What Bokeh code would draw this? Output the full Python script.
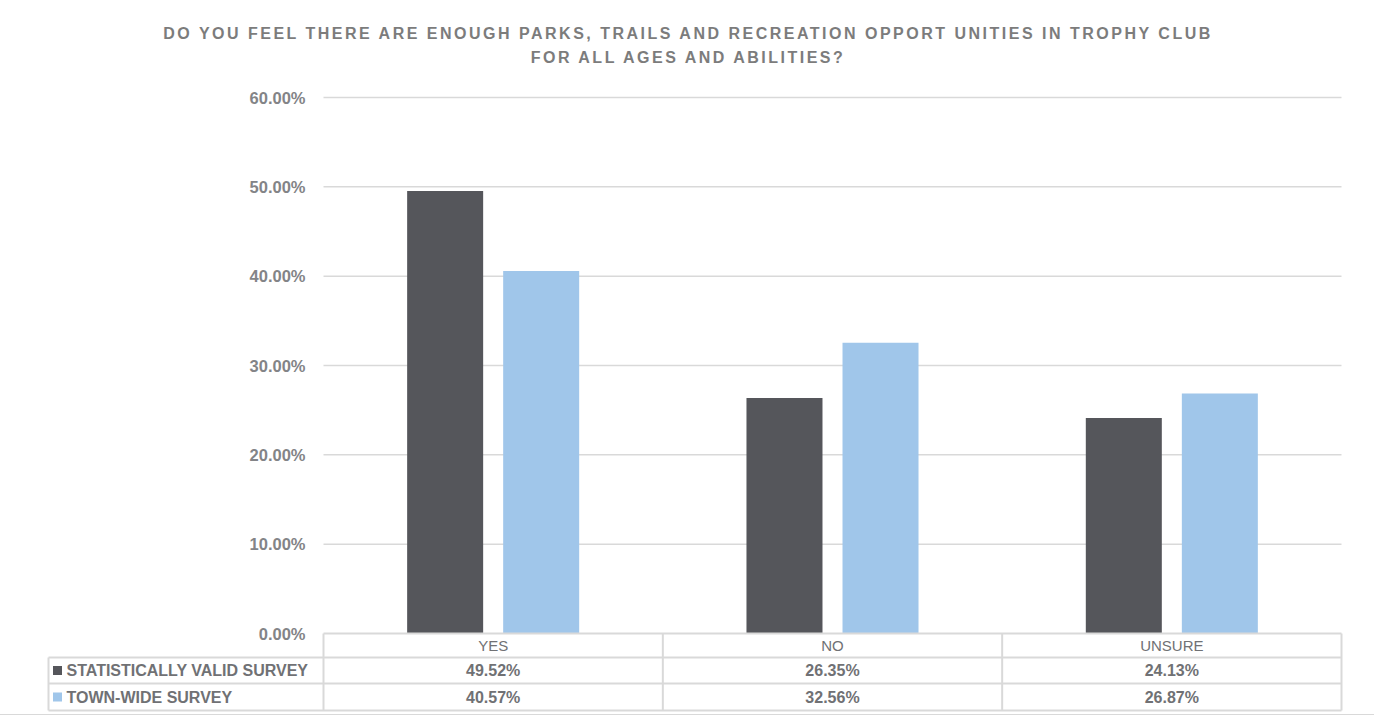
from bokeh.plotting import figure
from bokeh.models import Range1d, Div
from bokeh.layouts import column
from bokeh.core.properties import value
from bokeh.embed import file_html
from bokeh.resources import INLINE
import numpy as np

# ---- data ----
categories = ["YES", "NO", "UNSURE"]
series_names = ["STATISTICALLY VALID SURVEY", "TOWN-WIDE SURVEY"]
statistically_valid = [49.52, 26.35, 24.13]
town_wide = [40.57, 32.56, 26.87]
y_ticks = [0, 10, 20, 30, 40, 50, 60]
tick_labels = ["0.00%", "10.00%", "20.00%", "30.00%", "40.00%", "50.00%", "60.00%"]
title_lines = ["DO YOU FEEL THERE ARE ENOUGH PARKS, TRAILS AND RECREATION OPPORT UNITIES IN TROPHY CLUB",
               "FOR ALL AGES AND ABILITIES?"]

DARK = "#55565b"
BLUE = "#a0c6ea"
GRID = "#d9d9d9"
TXT = "#707174"
FONT = "Liberation Sans"

# layout helpers (pixel geometry -> data units)
PX = 339.33          # px per category
PY = 8.9333          # px per percent
def xd(px):
    return (px - 323) / PX
def yd(py):
    return (633 - py) / PY

W = 1366
title_html = ('<div style="width:%dpx;text-align:center;font-family:\'Liberation Sans\',sans-serif;'
              'font-weight:700;font-size:16px;letter-spacing:2.5px;color:#7c7c7c;'
              'line-height:24px;padding-top:17px;">' % W + "<br>".join(title_lines) + '</div>')
title = Div(text=title_html, width=W, height=78)

p = figure(width=W, height=626, output_backend="svg", toolbar_location=None,
           x_axis_type=None, y_axis_type=None,
           x_range=Range1d(xd(46), xd(1343)), y_range=Range1d(yd(712), yd(88)),
           min_border_left=46, min_border_right=W - 1343, min_border_top=0, min_border_bottom=2)
p.outline_line_color = None
p.background_fill_color = "white"
p.border_fill_color = "white"

n = len(categories)
idx = np.arange(n)
ncat = float(n)

# gridlines
grid_y = [t for t in y_ticks if t > 0]
p.segment(x0=[0] * len(grid_y), x1=[ncat] * len(grid_y), y0=grid_y, y1=grid_y,
          line_color=GRID, line_width=1.5)

# bars
bw = 0.224
off = 0.1415
p.vbar(x=idx + 0.5 - off, top=statistically_valid, bottom=0, width=bw, fill_color=DARK, line_color=None)
p.vbar(x=idx + 0.5 + off, top=town_wide, bottom=0, width=bw, fill_color=BLUE, line_color=None)

# y tick labels
p.text(x=[0] * len(y_ticks), y=y_ticks, text=tick_labels, x_offset=-18,
       text_align="right", text_baseline="middle", text_font=value(FONT),
       text_font_style="bold", text_font_size="16.5px", text_color="#838487")

# data table lines
row_top = yd(657)
row_mid = yd(683)
row_bot = yd(710)
left = xd(48)
p.segment(x0=[0, left, left, left], x1=[ncat] * 4,
          y0=[0, row_top, row_mid, row_bot], y1=[0, row_top, row_mid, row_bot],
          line_color=GRID, line_width=2)
vx = list(range(n + 1))
p.segment(x0=vx, x1=vx, y0=[0] * len(vx), y1=[row_bot] * len(vx), line_color=GRID, line_width=2)
p.segment(x0=[left], x1=[left], y0=[row_top], y1=[row_bot], line_color=GRID, line_width=2)

# header
p.text(x=idx + 0.5, y=[(0 + row_top) / 2] * n, text=categories, text_align="center",
       text_baseline="middle", text_font=value(FONT), text_font_size="15px", text_color=TXT)

# rows
row_centers = [(row_top + row_mid) / 2, (row_mid + row_bot) / 2]
for vals, yc in zip([statistically_valid, town_wide], row_centers):
    p.text(x=idx + 0.5, y=[yc] * n, text=[f"{v:.2f}%" for v in vals], text_align="center",
           text_baseline="middle", text_font=value(FONT), text_font_style="bold",
           text_font_size="16px", text_color=TXT)

# legend keys
p.scatter(x=[xd(57)] * 2, y=row_centers, marker="square", size=9,
          fill_color=[DARK, BLUE], line_color=None)
p.text(x=[xd(66)] * 2, y=row_centers, text=series_names, text_align="left",
       text_baseline="middle", text_font=value(FONT), text_font_style="bold",
       text_font_size="16px", text_color=TXT)

layout = column(title, p, styles={"outline": "1px solid #d9d9d9"})
open("out.html", "w").write(file_html(layout, INLINE))
